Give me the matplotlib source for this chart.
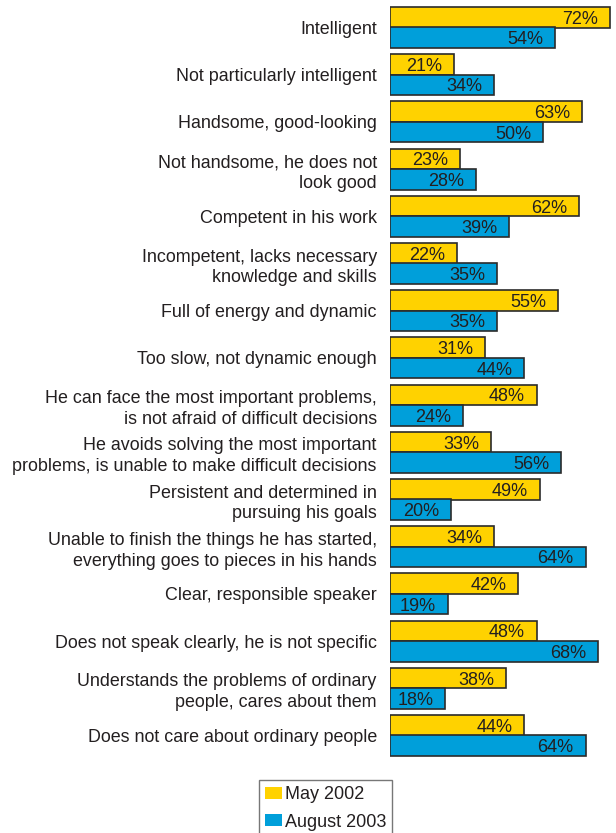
import matplotlib.pyplot as plt
import numpy as np

plt.rcParams['font.family'] = ['Liberation Sans', 'DejaVu Sans']

labels = [
    "Intelligent",
    "Not particularly intelligent",
    "Handsome, good-looking",
    "Not handsome, he does not\nlook good",
    "Competent in his work",
    "Incompetent, lacks necessary\nknowledge and skills",
    "Full of energy and dynamic",
    "Too slow, not dynamic enough",
    "He can face the most important problems,\nis not afraid of difficult decisions",
    "He avoids solving the most important\nproblems, is unable to make difficult decisions",
    "Persistent and determined in\npursuing his goals",
    "Unable to finish the things he has started,\neverything goes to pieces in his hands",
    "Clear, responsible speaker",
    "Does not speak clearly, he is not specific",
    "Understands the problems of ordinary\npeople, cares about them",
    "Does not care about ordinary people",
]
may_2002 = [72, 21, 63, 23, 62, 22, 55, 31, 48, 33, 49, 34, 42, 48, 38, 44]
aug_2003 = [54, 34, 50, 28, 39, 35, 35, 44, 24, 56, 20, 64, 19, 68, 18, 64]

YELLOW = '#FFD200'
BLUE = '#009FDA'
EDGE = '#2b2b2b'
TEXT = '#231F20'

W, H = 616, 833
fig = plt.figure(figsize=(W / 100, H / 100), dpi=100)

# axes spans from the bar baseline to the right edge of the figure
px_per_pct = 3.055
left_px, top_px, bottom_px = 390, 0, 760
ax = fig.add_axes([left_px / W, 1 - bottom_px / H, (W - left_px) / W, (bottom_px - top_px) / H])

group_px = 47.2
first_center_px = 27.5
ax.set_xlim(0, (W - left_px) / px_per_pct)
ax.set_ylim((bottom_px - first_center_px) / group_px, (top_px - first_center_px) / group_px)

y = np.arange(len(labels))
off = 0.217
h = 20.5 / group_px
b1 = ax.barh(y - off, may_2002, height=h, color=YELLOW, edgecolor=EDGE, linewidth=1.2, label='May 2002')
b2 = ax.barh(y + off, aug_2003, height=h, color=BLUE, edgecolor=EDGE, linewidth=1.2, label='August 2003')

for bars, vals in ((b1, may_2002), (b2, aug_2003)):
    for rect, v in zip(bars, vals):
        ax.annotate(f"{v}%", xy=(v, rect.get_y() + rect.get_height() / 2),
                    xytext=(-8.5, 0), textcoords='offset points',
                    ha='right', va='center_baseline', fontsize=13, color=TEXT)

ax.set_yticks(y)
ax.set_yticklabels(labels, fontsize=12.9, color=TEXT, linespacing=1.3)
ax.tick_params(axis='y', length=0, pad=9.5)
ax.set_xticks([])
for s in ax.spines.values():
    s.set_visible(False)

leg = fig.legend(handles=[b1, b2], loc='upper left',
                 bbox_to_anchor=(259 / W, 1 - 780 / H),
                 fontsize=13, frameon=True, fancybox=False,
                 handlelength=0.95, handleheight=0.67, handletextpad=0.12,
                 labelspacing=0.57, borderpad=0.35, borderaxespad=0)
leg.get_frame().set_edgecolor('#555555')
leg.get_frame().set_linewidth(1.0)
for p in leg.get_patches():
    p.set_edgecolor('none')
for t in leg.get_texts():
    t.set_color(TEXT)

fig.savefig('out.png', dpi=100)
